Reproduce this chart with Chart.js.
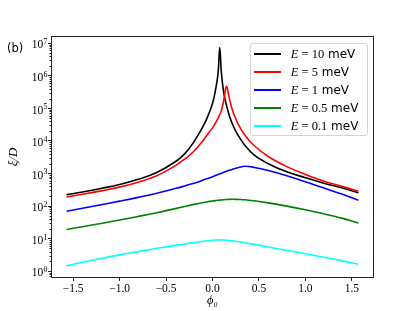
<!DOCTYPE html>
<html>
<head>
<meta charset="utf-8">
<script src="https://cdn.jsdelivr.net/npm/chart.js@4.4.1/dist/chart.umd.min.js"></script>
<style>
  html, body { margin: 0; padding: 0; background: #fff; }
  #wrap { position: relative; width: 415px; height: 311px; }
  #panel { position: absolute; left: 7px; top: 42px; font: 11.5px "DejaVu Sans", sans-serif; line-height: 13px; }
  #legend {
    position: absolute; left: 250px; top: 43px; width: 118px; height: 93px;
    box-sizing: border-box; border: 1px solid #d4d4d4; border-radius: 3px;
    background: rgba(255, 255, 255, 0.8); padding-top: 0.7px;
  }
  .row { position: relative; height: 18px; }
  .row .swatch { position: absolute; left: 3.3px; top: 8px; width: 27px; height: 2px; }
  .row .txt { position: absolute; left: 39.7px; top: 0; line-height: 18px; font-size: 12.5px; white-space: nowrap; }
  .m { font-family: "Liberation Serif", serif; }
  .s { font-family: "DejaVu Sans", sans-serif; font-size: 12px; }
</style>
</head>
<body>
<div id="wrap">
  <canvas id="chart" width="415" height="311"></canvas>
  <div id="panel">(b)</div>
  <div id="legend"></div>
</div>
<script>
function dqs(q) {
  return document.querySelector(q);
}

// phi_0 values (x) and xi/D for each energy
const phi = [-1.5708, -1.4, -1.2, -1.0, -0.8, -0.6, -0.4, -0.3, -0.2, -0.1, -0.05, 0,
  0.03, 0.06, 0.078, 0.096, 0.12, 0.15, 0.18, 0.21, 0.25, 0.3, 0.35, 0.45, 0.6, 0.8,
  1.0, 1.2, 1.4, 1.5708];

const xiE10 = [223.9, 269.2, 346.7, 457.1, 660.7, 1072, 2291, 3981, 9333, 28180, 57540,
  141300, 331100, 1202000, 7413000, 1202000, 316200, 125900, 61660, 35480, 19950, 11480,
  7244, 3631, 1995, 1122, 741.3, 501.2, 354.8, 257.0];
const xiE5 = [190.5, 229.1, 291.7, 380.2, 537.0, 851.1, 1738, 2754, 4786, 10470, 16220,
  25120, 34670, 50120, 64570, 85110, 166000, 467700, 208900, 97720, 47860, 24550, 14790,
  7079, 3311, 1622, 933.3, 575.4, 398.1, 281.8];
const xiE1 = [69.2, 85.1, 109.6, 141.3, 184.1, 245.5, 342.8, 412.1, 501.2, 623.7, 701.5,
  794.3, 859.0, 929.0, 972.7, 1019, 1081, 1161, 1245, 1330, 1445, 1578, 1660, 1531, 1230,
  851.1, 555.9, 354.8, 229.1, 151.4];
const xiE05 = [19.05, 23.17, 29.17, 37.15, 47.86, 62.37, 83.18, 96.6, 112.2, 127.4, 134.9,
  141.9, 145.9, 149.6, 151.7, 153.5, 156.0, 158.5, 160.0, 160.7, 160.3, 158.5, 154.9,
  144.5, 124.5, 98.9, 76.7, 57.5, 41.7, 30.2];
const xiE01 = [1.445, 1.862, 2.455, 3.162, 3.981, 5.012, 6.166, 6.839, 7.499, 8.222, 8.570,
  8.872, 9.016, 9.078, 9.078, 9.057, 8.995, 8.872, 8.710, 8.511, 8.222, 7.852, 7.447,
  6.637, 5.495, 4.365, 3.428, 2.661, 2.065, 1.622];

const energies = ["10", "5", "1", "0.5", "0.1"];
const colors = ["#000000", "#ff0000", "#0000ff", "#008000", "#00ffff"];
const series = [xiE10, xiE5, xiE1, xiE05, xiE01];

const xTicks = [-1.5, -1.0, -0.5, 0.0, 0.5, 1.0, 1.5];
const yDecades = [0, 1, 2, 3, 4, 5, 6, 7];

function toPoints(ys) {
  return ys.map((v, i) => ({ x: phi[i], y: v }));
}

// frame, minor ticks and 10^n labels on the log axis
const framePlugin = {
  id: "frame",
  afterDraw(chart) {
    const { ctx, chartArea: a, scales } = chart;
    const y = scales.y;
    ctx.save();
    ctx.strokeStyle = "#262626";
    ctx.lineWidth = 1;
    ctx.strokeRect(a.left - 0.5, a.top - 0.5, a.right - a.left + 1, a.bottom - a.top + 1);

    ctx.beginPath();
    for (let e = -1; e <= 7; e++) {
      for (let k = 2; k <= 9; k++) {
        const v = k * Math.pow(10, e);
        if (v < y.min || v > y.max) continue;
        const py = Math.round(y.getPixelForValue(v)) + 0.5;
        ctx.moveTo(a.left - 0.5, py);
        ctx.lineTo(a.left - 2.5, py);
      }
    }
    ctx.stroke();

    ctx.fillStyle = "#000";
    ctx.textAlign = "left";
    ctx.textBaseline = "alphabetic";
    const xRight = a.left - 4.5;
    yDecades.forEach((e) => {
      const py = y.getPixelForValue(Math.pow(10, e));
      const exp = String(e);
      ctx.font = '8px "Liberation Serif"';
      const expW = ctx.measureText(exp).width;
      ctx.fillText(exp, xRight - expW, py + 1);
      ctx.font = '11.5px "Liberation Serif"';
      const baseW = ctx.measureText("10").width;
      ctx.fillText("10", xRight - expW - baseW - 0.3, py + 5.2);
    });
    ctx.restore();
  },
};

function buildLegend() {
  const box = dqs("#legend");
  energies.forEach((e, i) => {
    const row = document.createElement("div");
    row.className = "row";
    row.innerHTML =
      `<div class="swatch" style="background:${colors[i]}"></div>` +
      `<div class="txt"><span class="m"><i>E</i> = ${e}</span><span class="s"> meV</span></div>`;
    box.appendChild(row);
  });
}

function setup() {
  const ctx = dqs("#chart").getContext("2d");
  new Chart(ctx, {
    type: "line",
    data: {
      datasets: series.map((ys, i) => ({
        label: `E = ${energies[i]} meV`,
        data: toPoints(ys),
        borderColor: colors[i],
        borderWidth: 1.6,
        pointRadius: 0,
        fill: false,
        tension: 0.4,
        order: series.length - i, // later curves drawn on top, like matplotlib
      })),
    },
    options: {
      responsive: false,
      animation: false,
      devicePixelRatio: 1,
      layout: { padding: { left: 0, top: 37, right: 42, bottom: 0 } },
      plugins: { legend: { display: false }, tooltip: { enabled: false } },
      scales: {
        x: {
          type: "linear",
          min: -1.728,
          max: 1.728,
          afterBuildTicks: (scale) => {
            scale.ticks = xTicks.map((v) => ({ value: v }));
          },
          afterFit: (scale) => {
            scale.height = 34;
          },
          border: { display: false },
          grid: { drawOnChartArea: false, drawTicks: true, tickLength: 4, color: "#262626" },
          ticks: {
            color: "#000",
            padding: 1,
            maxRotation: 0,
            font: { family: "Liberation Serif", size: 11.5 },
            callback: (v) => (v < 0 ? "\u2212" : "") + Math.abs(v).toFixed(1),
          },
          title: {
            display: true,
            text: "\u03d5\u2080",
            color: "#000",
            font: { family: "Liberation Serif", size: 12.5, style: "italic" },
            padding: { top: 0, bottom: 2.5 },
          },
        },
        y: {
          type: "logarithmic",
          min: 0.66,
          max: 1.55e7,
          afterBuildTicks: (scale) => {
            scale.ticks = yDecades.map((e) => ({ value: Math.pow(10, e), major: true }));
          },
          afterFit: (scale) => {
            scale.width = 52;
          },
          border: { display: false },
          grid: { drawOnChartArea: false, drawTicks: true, tickLength: 4, color: "#262626" },
          ticks: { display: false },
          title: {
            display: true,
            text: "\u03be/D",
            color: "#000",
            font: { family: "Liberation Serif", size: 13, style: "italic" },
            padding: { top: 6, bottom: 0 },
          },
        },
      },
    },
    plugins: [framePlugin],
  });
}

buildLegend();
setup();
</script>
</body>
</html>
